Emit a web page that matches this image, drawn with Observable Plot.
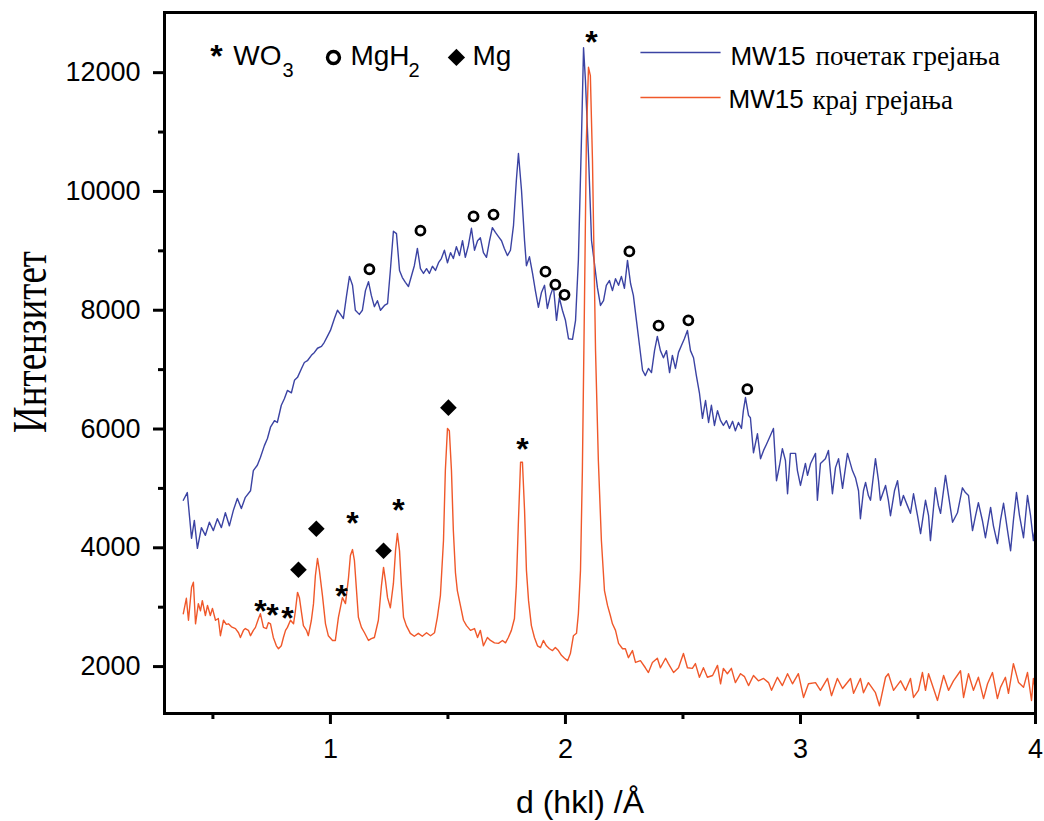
<!DOCTYPE html>
<html><head><meta charset="utf-8">
<script src="https://cdn.jsdelivr.net/npm/d3@7"></script>
<script src="https://cdn.jsdelivr.net/npm/@observablehq/plot@0.6"></script>
<style>body{margin:0;background:#fff}</style>
</head><body><div id="chart"></div>
<script>
// ---- series: MW15 почетак грејања (blue) ----
const blueD = [
0.374,0.391,0.409,0.421,0.434,0.451,0.468,0.485,0.502,0.519,
0.536,0.553,0.570,0.587,0.604,0.621,0.638,0.660,0.672,0.689,
0.702,0.719,0.732,0.745,0.762,0.774,0.791,0.804,0.817,0.834,
0.847,0.860,0.877,0.889,0.902,0.919,0.932,0.945,0.962,0.974,
0.987,1.000,1.017,1.030,1.043,1.055,1.068,1.081,1.094,1.106,
1.123,1.136,1.149,1.162,1.174,1.187,1.200,1.213,1.230,1.243,
1.255,1.268,1.281,1.294,1.306,1.319,1.332,1.345,1.357,1.370,
1.383,1.396,1.409,1.421,1.434,1.447,1.460,1.472,1.485,1.498,
1.511,1.523,1.536,1.549,1.562,1.574,1.587,1.600,1.613,1.626,
1.638,1.651,1.664,1.677,1.689,1.702,1.715,1.728,1.740,1.753,
1.766,1.779,1.791,1.800,1.813,1.826,1.834,1.847,1.860,1.872,
1.885,1.898,1.911,1.923,1.936,1.949,1.962,1.974,1.987,2.000,
2.013,2.030,2.043,2.055,2.068,2.077,2.085,2.098,2.111,2.123,
2.136,2.149,2.162,2.174,2.187,2.200,2.213,2.226,2.238,2.251,
2.264,2.277,2.289,2.302,2.315,2.328,2.340,2.353,2.366,2.379,
2.391,2.404,2.417,2.430,2.443,2.455,2.468,2.481,2.494,2.506,
2.519,2.532,2.545,2.557,2.570,2.583,2.596,2.609,2.621,2.634,
2.647,2.660,2.672,2.685,2.698,2.711,2.723,2.736,2.749,2.757,
2.766,2.779,2.787,2.800,2.817,2.830,2.843,2.855,2.872,2.885,
2.898,2.911,2.923,2.936,2.945,2.957,2.979,2.987,3.000,3.021,
3.030,3.043,3.064,3.072,3.085,3.106,3.119,3.136,3.149,3.162,
3.179,3.200,3.221,3.234,3.247,3.255,3.268,3.277,3.289,3.298,
3.319,3.332,3.340,3.362,3.374,3.383,3.400,3.413,3.426,3.438,
3.455,3.468,3.481,3.498,3.511,3.532,3.545,3.553,3.574,3.587,
3.596,3.617,3.630,3.647,3.668,3.689,3.702,3.715,3.732,3.745,
3.757,3.774,3.787,3.809,3.821,3.838,3.851,3.864,3.881,3.894,
3.906,3.919,3.932,3.949,3.966,3.979,3.991,4.000];
const blueI = [
4800,4930,4160,4460,3990,4340,4210,4430,4290,4490,
4340,4590,4370,4630,4830,4660,4850,4960,5300,5390,
5520,5720,5840,6030,6140,6110,6400,6510,6650,6610,
6820,6870,7020,7120,7150,7240,7290,7360,7390,7460,
7560,7660,7860,8000,7930,7860,8230,8570,8420,8000,
7930,8000,8330,8480,8250,8060,8160,8000,8080,8110,
8670,9330,9290,8670,8550,8470,8400,8580,8750,9040,
8700,8620,8700,8620,8740,8670,8800,8870,9010,8800,
8970,8870,9070,8920,9170,8890,9090,9380,9010,9170,
9220,8970,8890,9170,9390,9310,9240,9170,9040,8920,
9010,9430,10180,10640,10020,9170,8750,8900,8620,8330,
8050,8300,8420,8030,8250,8400,7830,8210,8000,7830,
7520,7510,7830,8840,10860,12420,11870,10610,9170,8800,
8380,8080,8160,8420,8500,8330,8530,8420,8570,8370,
8840,8450,8250,7830,7410,6990,6900,7020,6950,7320,
7560,7320,7200,7320,6950,7240,7020,7290,7410,7520,
7660,7320,7200,6900,6610,6180,6480,6110,6400,6060,
6310,6140,6060,6140,6010,6130,5970,6110,6010,6310,
6530,6230,6190,5600,5920,5500,5640,5740,5890,6010,
5130,5390,5670,5470,4910,5590,5590,5300,5050,5420,
5220,5420,5590,4800,5420,5500,5640,4910,5350,5500,
5000,5590,5300,5180,4960,4490,4960,5100,4880,4800,
5500,5130,4800,5050,4800,4540,4960,5130,4710,4880,
4710,4580,4910,4540,4240,4800,4540,4120,5010,4710,
4580,5220,4880,4430,4590,5010,4930,4880,4290,4540,
4760,4460,4170,4680,4370,4070,4460,4750,4290,3950,
4460,4930,4540,4170,4880,4540,4120,4370];

// ---- series: MW15 крај грејања (orange) ----
const orangeD = [
0.374,0.387,0.396,0.409,0.417,0.426,0.438,0.447,0.455,0.468,
0.477,0.489,0.498,0.511,0.523,0.532,0.545,0.557,0.566,0.579,
0.596,0.609,0.617,0.630,0.638,0.651,0.660,0.672,0.681,0.694,
0.702,0.715,0.728,0.736,0.745,0.757,0.770,0.779,0.791,0.800,
0.809,0.817,0.830,0.843,0.851,0.860,0.868,0.877,0.885,0.898,
0.906,0.919,0.928,0.936,0.945,0.953,0.966,0.979,0.991,1.009,
1.021,1.034,1.051,1.064,1.077,1.085,1.094,1.102,1.111,1.119,
1.132,1.145,1.162,1.174,1.187,1.204,1.217,1.226,1.234,1.243,
1.255,1.268,1.277,1.285,1.294,1.302,1.311,1.323,1.340,1.357,
1.374,1.391,1.409,1.426,1.443,1.455,1.468,1.481,1.489,1.498,
1.506,1.515,1.523,1.532,1.540,1.553,1.566,1.579,1.596,1.613,
1.626,1.638,1.651,1.668,1.681,1.698,1.715,1.732,1.745,1.757,
1.770,1.783,1.791,1.800,1.809,1.817,1.826,1.834,1.843,1.855,
1.868,1.881,1.894,1.906,1.919,1.932,1.945,1.957,1.970,1.983,
1.996,2.009,2.021,2.034,2.047,2.055,2.064,2.072,2.081,2.089,
2.098,2.106,2.115,2.128,2.140,2.153,2.166,2.179,2.191,2.200,
2.213,2.226,2.243,2.255,2.268,2.285,2.298,2.319,2.340,2.353,
2.370,2.391,2.404,2.426,2.438,2.460,2.481,2.502,2.519,2.540,
2.553,2.570,2.587,2.604,2.626,2.647,2.660,2.672,2.689,2.706,
2.723,2.745,2.762,2.779,2.800,2.821,2.843,2.864,2.877,2.902,
2.923,2.945,2.966,2.991,3.013,3.034,3.064,3.085,3.115,3.132,
3.157,3.179,3.213,3.226,3.255,3.268,3.289,3.319,3.336,3.362,
3.374,3.396,3.426,3.447,3.468,3.481,3.502,3.519,3.532,3.545,
3.566,3.583,3.609,3.630,3.651,3.681,3.694,3.715,3.736,3.757,
3.779,3.796,3.817,3.838,3.851,3.872,3.885,3.906,3.928,3.949,
3.966,3.983,3.991,4.000];
const orangeI = [
2890,3150,2780,3330,3420,2720,3060,2940,3110,2860,
3030,2860,2980,2780,2810,2520,2780,2710,2720,2670,
2640,2570,2490,2610,2640,2610,2520,2610,2660,2810,
2890,2660,2640,2740,2720,2490,2350,2300,2350,2490,
2610,2660,2780,2720,2940,3250,3160,2910,2690,2610,
2520,2780,3060,3530,3820,3620,3200,2720,2520,2440,
2440,2830,3160,3060,3500,3870,3970,3790,3280,2830,
2660,2570,2440,2470,2490,2780,3360,3670,3450,3160,
2990,3400,3950,4240,3950,3360,2830,2690,2560,2510,
2560,2510,2570,2520,2570,2830,3200,4120,5300,6010,
5970,5300,4290,3580,3280,3030,2780,2690,2610,2640,
2490,2610,2350,2490,2440,2400,2390,2440,2400,2490,
2610,2810,3360,4460,5440,5440,4630,3620,3110,2690,
2490,2350,2320,2440,2350,2300,2270,2320,2270,2190,
2140,2100,2220,2520,2560,2890,3620,5300,8160,10860,
12090,11950,10520,7320,5470,4120,3280,3030,2860,2720,
2610,2390,2300,2300,2150,2270,2070,2100,1980,1900,
2070,2140,1980,2140,2050,1900,1980,2220,1980,1970,
2050,1820,1980,1820,1850,2020,1710,1970,1880,1970,
1730,1880,1830,1680,1850,1760,1800,1730,1600,1820,
1680,1880,1710,1880,1480,1710,1730,1600,1800,1510,
1800,1630,1800,1550,1800,1560,1730,1560,1340,1820,
1880,1600,1760,1600,1800,1480,1600,1900,1600,1880,
1630,1430,1850,1600,1760,1930,1480,1880,1600,1820,
1460,1710,1900,1460,1650,1820,1550,2050,1730,1650,
1900,1430,1800,1600];

// ---- phase markers (peak annotations) ----
const wo3D = [0.702,0.753,0.817,1.047,1.094,1.289,1.817,2.111];
const wo3I = [3060,2990,2940,3310,4540,4760,5790,12640];
const mgh2D = [1.166,1.383,1.609,1.694,1.915,1.957,1.996,2.272,2.396,2.523,2.774];
const mgh2I = [8690,9340,9580,9610,8650,8430,8260,8990,7740,7830,6670];
const mgD = [0.864,0.940,1.226,1.502];
const mgI = [3630,4320,3950,6360];

// ---- phase key (top-left) ----
const keyStarD = [0.515], keyStarI = [12410];
const keyCircleD = [1.013], keyCircleI = [12256];
const keyDiamondD = [1.536], keyDiamondI = [12256];
const keyLabels = ["WO", "MgH", "Mg"];
const keyLabelD = [0.587, 1.085, 1.604], keyLabelI = [12280, 12280, 12280];
const keySubs = ["3", "2"];
const keySubD = [0.796, 1.332], keySubI = [12040, 12040];

// ---- series key (top-right) ----
const seriesPrefix = ["MW15", "MW15"];
const seriesSuffix = ["почетак грејања", "крај грејања"];
const seriesKeyD1 = [2.319, 2.319], seriesKeyD2 = [2.660, 2.660];
const seriesKeyI = [12340, 11582];
const seriesTextI = [12272, 11540];
const seriesPrefixD = [2.702, 2.694];
const seriesSuffixD = [3.064, 3.051];

// ---- axes ----
const xMajor = [1, 2, 3, 4], xMinor = [0.5, 1.5, 2.5, 3.5];
const yMajor = [2000, 4000, 6000, 8000, 10000, 12000];
const yMinor = [3000, 5000, 7000, 9000, 11000];
const xLabel = "d (hkl) /Å";
const yLabel = "Интензитет";

const SANS = "'Liberation Sans', Arial, Helvetica, sans-serif";
const SERIF = "'Liberation Serif', 'Times New Roman', serif";
const BLUE = "#3b43a3", ORANGE = "#f0582a";

const zip = (D, I) => D.map((d, k) => ({d, v: I[k]}));
const blue = zip(blueD, blueI), orange = zip(orangeD, orangeI);
const wo3 = zip(wo3D, wo3I), mgh2 = zip(mgh2D, mgh2I), mg = zip(mgD, mgI);
const keyLab = keyLabels.map((t, k) => ({t, d: keyLabelD[k], v: keyLabelI[k]}));
const keySub = keySubs.map((t, k) => ({t, d: keySubD[k], v: keySubI[k]}));
const series = seriesPrefix.map((p, k) => ({
  p, s: seriesSuffix[k], d1: seriesKeyD1[k], d2: seriesKeyD2[k], v: seriesKeyI[k],
  tv: seriesTextI[k], pd: seriesPrefixD[k], sd: seriesSuffixD[k], c: k === 0 ? BLUE : ORANGE
}));

const chart = Plot.plot({
  width: 1044, height: 821,
  marginLeft: 164, marginRight: 9, marginTop: 12, marginBottom: 108,
  style: {fontFamily: SANS, fontSize: "27px", background: "white", color: "black"},
  x: {domain: [0.294, 4.0]},
  y: {domain: [1210, 13013]},
  marks: [
    Plot.axisY(yMajor, {tickSize: 11, tickPadding: 13, stroke: "black", strokeWidth: 3, tickFormat: d => String(d), label: null}),
    Plot.axisY(yMinor, {tickSize: 6, stroke: "black", strokeWidth: 3, fill: "none", label: null}),
    Plot.axisX(xMajor, {tickSize: 11, tickPadding: 14, stroke: "black", strokeWidth: 3, tickFormat: d => String(d), label: null}),
    Plot.axisX(xMinor, {tickSize: 6, stroke: "black", strokeWidth: 3, fill: "none", label: null}),
    Plot.line(blue, {x: "d", y: "v", stroke: BLUE, strokeWidth: 1.4}),
    Plot.line(orange, {x: "d", y: "v", stroke: ORANGE, strokeWidth: 1.4}),
    Plot.frame({stroke: "black", strokeWidth: 3}),
    // peak markers
    Plot.text(wo3, {x: "d", y: "v", text: () => "*", fontSize: 32, fontWeight: "bold", dy: 8}),
    Plot.dot(mgh2, {x: "d", y: "v", r: 4.5, stroke: "black", strokeWidth: 2.8, fill: "white"}),
    Plot.dot(mg, {x: "d", y: "v", symbol: "diamond2", r: 7.5, fill: "black", stroke: "none"}),
    // phase key
    Plot.text(zip(keyStarD, keyStarI), {x: "d", y: "v", text: () => "*", fontSize: 32, fontWeight: "bold", dy: 8}),
    Plot.dot(zip(keyCircleD, keyCircleI), {x: "d", y: "v", r: 6, stroke: "black", strokeWidth: 3.4, fill: "white"}),
    Plot.dot(zip(keyDiamondD, keyDiamondI), {x: "d", y: "v", symbol: "diamond2", r: 7.8, fill: "black", stroke: "none"}),
    Plot.text(keyLab, {x: "d", y: "v", text: "t", textAnchor: "start", fontSize: 28}),
    Plot.text(keySub, {x: "d", y: "v", text: "t", textAnchor: "start", fontSize: 20}),
    // series key
    Plot.link(series, {x1: "d1", x2: "d2", y1: "v", y2: "v", stroke: "c", strokeWidth: 1.6}),
    Plot.text(series, {x: "pd", y: "tv", text: "p", textAnchor: "start", fontSize: 26}),
    Plot.text(series, {x: "sd", y: "tv", text: "s", textAnchor: "start", fontSize: 27, fontFamily: SERIF}),
    // axis titles
    Plot.text([xLabel], {frameAnchor: "bottom", textAnchor: "middle", lineAnchor: "bottom", dx: -20, dy: 99, fontSize: 32}),
    Plot.text([yLabel], {frameAnchor: "left", textAnchor: "middle", lineAnchor: "middle", rotate: -90, dx: -134, dy: -21, fontSize: 48, fontFamily: SERIF})
  ]
});
// condense the y-axis title along its baseline, as in the original figure
d3.select(chart).selectAll("text")
  .filter(function() { return this.textContent === yLabel; })
  .attr("transform", function() { return (this.getAttribute("transform") || "") + " scale(0.77,1)"; });
// make sure axis ticks are drawn bold and black
d3.select(chart).selectAll("g[aria-label$='tick']")
  .attr("stroke", "black").attr("stroke-width", 3);
document.getElementById("chart").appendChild(chart);
</script>
</body></html>
